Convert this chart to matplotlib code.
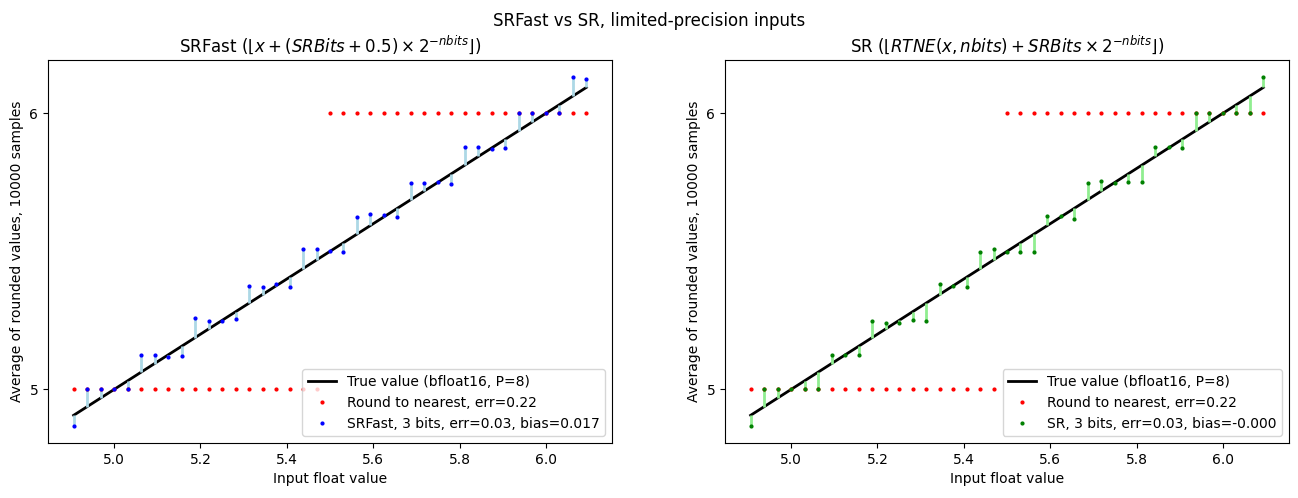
import numpy as np
import matplotlib.pyplot as plt

# input values (bfloat16 grid, step 1/32)
x_vals = [4.90625, 4.9375, 4.96875, 5.0, 5.03125, 5.0625, 5.09375, 5.125,
          5.15625, 5.1875, 5.21875, 5.25, 5.28125, 5.3125, 5.34375, 5.375,
          5.40625, 5.4375, 5.46875, 5.5, 5.53125, 5.5625, 5.59375, 5.625,
          5.65625, 5.6875, 5.71875, 5.75, 5.78125, 5.8125, 5.84375, 5.875,
          5.90625, 5.9375, 5.96875, 6.0, 6.03125, 6.0625, 6.09375]

# round to nearest (3 bits)
rtn_vals = [5, 5, 5, 5, 5, 5, 5, 5, 5, 5, 5, 5, 5, 5, 5, 5, 5, 5, 5,
            6, 6, 6, 6, 6, 6, 6, 6, 6, 6, 6, 6, 6, 6, 6, 6, 6, 6, 6, 6]

# average of 10000 SRFast samples
srfast_vals = [4.869, 5.0, 5.0, 5.0, 5.0, 5.125, 5.125, 5.118, 5.121, 5.258,
               5.247, 5.247, 5.255, 5.373, 5.370, 5.381, 5.370, 5.507, 5.507,
               5.503, 5.499, 5.626, 5.634, 5.630, 5.626, 5.749, 5.749, 5.753,
               5.744, 5.877, 5.877, 5.870, 5.874, 6.0, 6.0, 6.0, 6.0, 6.130,
               6.126]

# average of 10000 SR samples
sr_vals = [4.869, 5.0, 5.0, 5.0, 5.0, 5.0, 5.125, 5.125, 5.125, 5.247,
           5.240, 5.240, 5.251, 5.247, 5.383, 5.373, 5.370, 5.499, 5.507,
           5.499, 5.496, 5.496, 5.629, 5.629, 5.618, 5.749, 5.756, 5.749,
           5.753, 5.753, 5.877, 5.877, 5.874, 6.0, 6.0, 6.0, 6.0, 6.0,
           6.130]

x = np.array(x_vals)

fig = plt.figure(figsize=(12.98, 4.98), dpi=100)
ax1 = fig.add_axes([48 / 1298, 1 - 443 / 498, 564 / 1298, 383 / 498])
ax2 = fig.add_axes([725 / 1298, 1 - 443 / 498, 564 / 1298, 383 / 498])

panels = [
    (ax1, srfast_vals, 'blue', 'lightblue', "SRFast, 3 bits, err=0.03, bias=0.017",
     r"SRFast ($\lfloor x + (SRBits + 0.5) \times 2^{-nbits} \rfloor$)"),
    (ax2, sr_vals, 'green', 'lightgreen', "SR, 3 bits, err=0.03, bias=-0.000",
     r"SR ($\lfloor RTNE(x, nbits) + SRBits \times 2^{-nbits} \rfloor$)"),
]

for ax, vals, col, stemcol, lab, title in panels:
    ax.plot(x, x, color='black', linewidth=2, label="True value (bfloat16, P=8)", zorder=1)
    ax.vlines(x, x, vals, color=stemcol, linewidth=2, zorder=2)
    ax.plot(x, rtn_vals, 'r.', markersize=4, label="Round to nearest, err=0.22", zorder=3)
    ax.plot(x, vals, '.', color=col, markersize=4, label=lab, zorder=4)
    ax.set_title(title)
    ax.set_xlabel("Input float value")
    ax.set_ylabel("Average of rounded values, 10000 samples")
    ax.set_yticks([5, 6])
    ax.legend(loc='lower right')

fig.suptitle("SRFast vs SR, limited-precision inputs", y=0.975)

plt.savefig("out.png", dpi=100)
